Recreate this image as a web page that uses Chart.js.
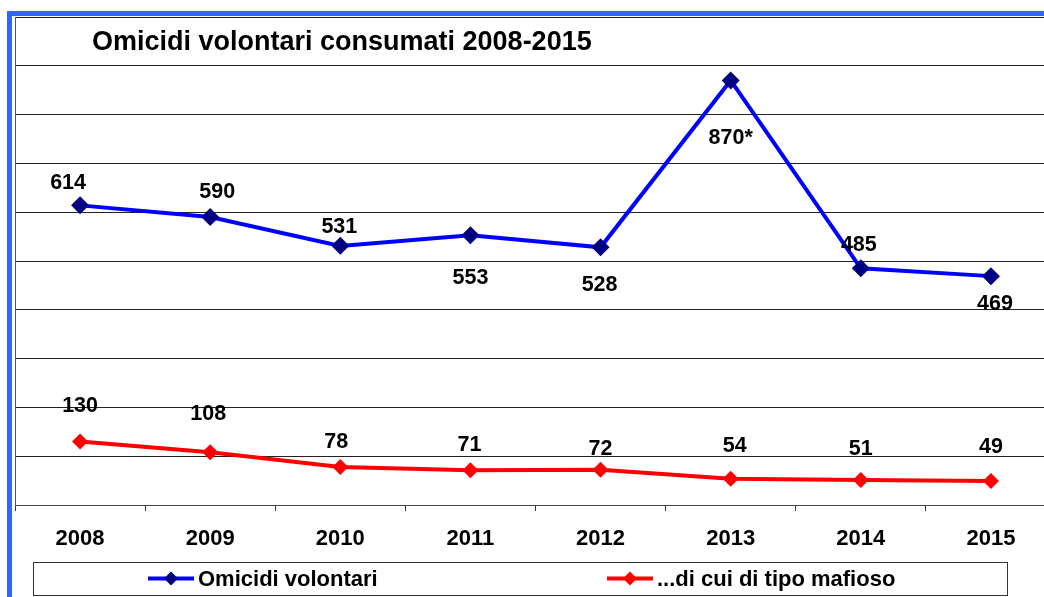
<!DOCTYPE html>
<html>
<head>
<meta charset="utf-8">
<script src="https://cdn.jsdelivr.net/npm/chart.js@4/dist/chart.umd.min.js"></script>
<style>
  html, body { margin: 0; padding: 0; background: #ffffff; overflow: hidden; width: 1044px; height: 597px; }
  #frame { position: absolute; left: 7px; top: 11px; width: 1100px; height: 700px;
           border-left: 5px solid #3366FF; border-top: 5px solid #3366FF; box-sizing: border-box; }
  #c { position: absolute; left: 0; top: 0; }
</style>
</head>
<body>
<div id="frame"></div>
<canvas id="c" width="1065" height="597"></canvas>
<script>
// ---- Data ----
const titleText = 'Omicidi volontari consumati 2008-2015';
const years = ['2008', '2009', '2010', '2011', '2012', '2013', '2014', '2015'];
const seriesNames = ['Omicidi volontari', '...di cui di tipo mafioso'];
const omicidiVolontari = [614, 590, 531, 553, 528, 870, 485, 469];
const diTipoMafioso = [130, 108, 78, 71, 72, 54, 51, 49];
const omicidiLabelSuffix = ['', '', '', '', '', '*', '', ''];
const mafiosoLabelSuffix = ['', '', '', '', '', '', '', ''];
const yMin = 0, yMax = 1000, yStep = 100;

// ---- Label placement (offsets of label centre from its point) ----
const omicidiLabelDx = [-12, 7, -1, 0, -1, 0, -2, 4];
const omicidiLabelDy = [-24, -27, -21, 41, 36, 56, -25, 26];
const mafiosoLabelDx = [0, -2, -4, -1, 0, 4, 0, 0];
const mafiosoLabelDy = [-37, -40, -27, -27, -23, -34, -33, -36];

const FONT = '"Liberation Sans", Arial, Helvetica, sans-serif';

const labelPlugin = {
  id: 'valueLabels',
  afterDatasetsDraw(chart) {
    const ctx = chart.ctx;
    const size = 21.5;
    ctx.save();
    ctx.font = 'bold ' + size + 'px ' + FONT;
    ctx.fillStyle = '#000000';
    ctx.textAlign = 'center';
    ctx.textBaseline = 'alphabetic';
    chart.data.datasets.forEach((ds, di) => {
      const meta = chart.getDatasetMeta(di);
      meta.data.forEach((pt, i) => {
        const txt = String(ds.data[i]) + ds.labelSuffix[i];
        const cx = pt.x + ds.labelDx[i];
        const cy = pt.y + ds.labelDy[i];
        ctx.fillText(txt, cx, cy + size * 0.716 / 2);
      });
    });
    ctx.restore();
  }
};

const titlePlugin = {
  id: 'customTitle',
  afterDraw(chart) {
    const ctx = chart.ctx;
    ctx.save();
    ctx.font = 'bold 27px ' + FONT;
    ctx.fillStyle = '#000000';
    ctx.textAlign = 'left';
    ctx.textBaseline = 'alphabetic';
    ctx.fillText(titleText, 92, 50);
    ctx.restore();
  }
};

const legendPlugin = {
  id: 'boxLegend',
  afterDraw(chart) {
    const ctx = chart.ctx;
    ctx.save();
    ctx.strokeStyle = '#333333';
    ctx.lineWidth = 1;
    ctx.strokeRect(33.5, 562.5, 974, 33);
    const items = [{ x: 148 }, { x: 607 }];
    ctx.font = 'bold 22px ' + FONT;
    ctx.textAlign = 'left';
    ctx.textBaseline = 'alphabetic';
    chart.data.datasets.forEach((ds, di) => {
      const x0 = items[di].x, y = 578.5;
      ctx.strokeStyle = ds.borderColor;
      ctx.lineWidth = 4;
      ctx.beginPath();
      ctx.moveTo(x0, y);
      ctx.lineTo(x0 + 46, y);
      ctx.stroke();
      const cx = x0 + 23, r = 7;
      ctx.fillStyle = ds.pointBackgroundColor;
      ctx.beginPath();
      ctx.moveTo(cx - r, y); ctx.lineTo(cx, y - r); ctx.lineTo(cx + r, y); ctx.lineTo(cx, y + r);
      ctx.closePath();
      ctx.fill();
      ctx.fillStyle = '#000000';
      ctx.fillText(ds.label, x0 + 50, 586);
    });
    ctx.restore();
  }
};

new Chart(document.getElementById('c'), {
  type: 'line',
  data: {
    labels: years,
    datasets: [
      {
        label: seriesNames[0],
        data: omicidiVolontari,
        labelSuffix: omicidiLabelSuffix,
        labelDx: omicidiLabelDx,
        labelDy: omicidiLabelDy,
        borderColor: '#0000FF',
        borderWidth: 4,
        pointStyle: 'rectRot',
        pointRadius: 9,
        pointBackgroundColor: '#000080',
        pointBorderColor: '#000080',
        pointBorderWidth: 0,
        tension: 0,
        fill: false
      },
      {
        label: seriesNames[1],
        data: diTipoMafioso,
        labelSuffix: mafiosoLabelSuffix,
        labelDx: mafiosoLabelDx,
        labelDy: mafiosoLabelDy,
        borderColor: '#FF0000',
        borderWidth: 4,
        pointStyle: 'rectRot',
        pointRadius: 8,
        pointBackgroundColor: '#FF0000',
        pointBorderColor: '#FF0000',
        pointBorderWidth: 0,
        tension: 0,
        fill: false
      }
    ]
  },
  options: {
    responsive: false,
    animation: false,
    devicePixelRatio: 1,
    layout: { padding: { left: 15, top: 17, right: 5, bottom: 29.6 } },
    plugins: {
      legend: { display: false },
      title: { display: false },
      tooltip: { enabled: false }
    },
    scales: {
      x: {
        type: 'category',
        offset: true,
        grid: { offset: true, drawOnChartArea: false, drawTicks: true, tickLength: 6, color: '#333333', lineWidth: 1 },
        border: { display: true, color: '#444444', width: 1 },
        ticks: { color: '#000000', font: { family: FONT, size: 22, weight: 'bold' }, padding: 15, maxRotation: 0, autoSkip: false }
      },
      y: {
        min: yMin,
        max: yMax,
        ticks: { display: false, stepSize: yStep },
        grid: { drawTicks: false, color: '#222222', lineWidth: 1 },
        border: { display: true, color: '#555555', width: 1 }
      }
    }
  },
  plugins: [labelPlugin, titlePlugin, legendPlugin]
});
</script>
</body>
</html>
